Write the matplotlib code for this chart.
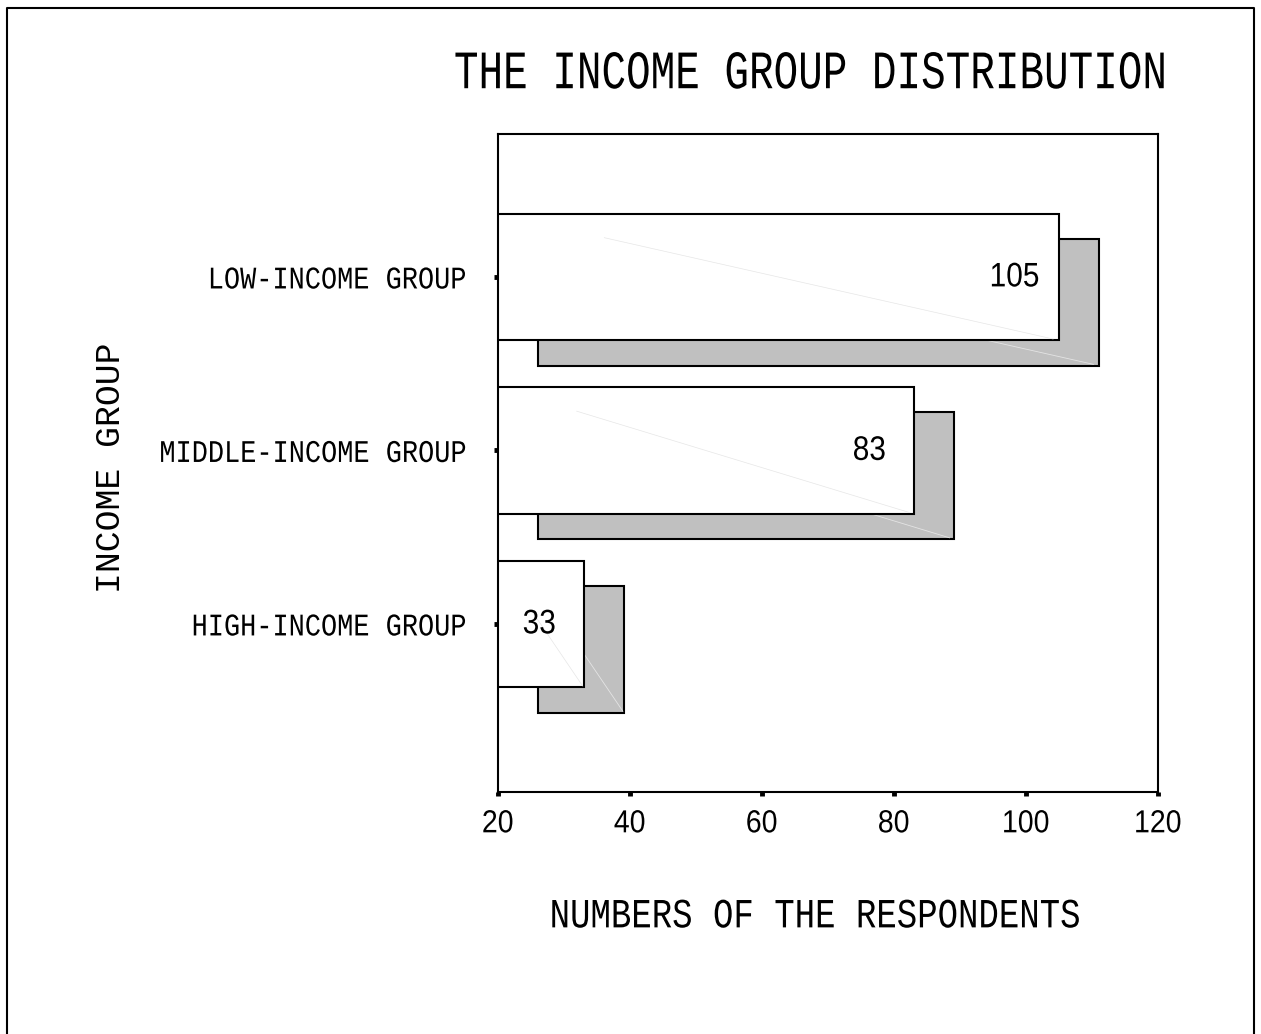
import numpy as np
import matplotlib
matplotlib.use("Agg")
from matplotlib import pyplot as plt
import matplotlib.patheffects as pe
from matplotlib.transforms import Affine2D
from matplotlib.lines import Line2D

# data
groups = ["LOW-INCOME GROUP", "MIDDLE-INCOME GROUP", "HIGH-INCOME GROUP"]
counts = [105, 83, 33]
xticks = [20, 40, 60, 80, 100, 120]

title = "THE INCOME GROUP DISTRIBUTION"
xlabel = "NUMBERS OF THE RESPONDENTS"
ylabel = "INCOME GROUP"


class Tall(pe.AbstractPathEffect):
    """Stretch glyphs vertically about their middle (SPSS text is narrow and tall)."""

    def __init__(self, sy):
        super().__init__()
        self.sy = sy

    def draw_path(self, renderer, gc, tpath, affine, rgbFace=None):
        ext = tpath.get_extents()
        mid = (ext.y0 + ext.y1) / 2
        st = Affine2D().translate(0, -mid).scale(1, self.sy).translate(0, mid)
        renderer.draw_path(gc, tpath, st + affine, rgbFace)


MONO = "Liberation Mono"
SANS = "Liberation Sans"

W, H = 1261, 1034
fig = plt.figure(figsize=(W / 100, H / 100), dpi=100)
ax = fig.add_axes([497.7 / W, 1 - 791.7 / H, 660 / W, 657.7 / H])

base = 20
pos = np.arange(len(groups))
vals = np.array(counts, dtype=float)
bar_h = 0.73
dx, dy = 6.1, 0.146  # drop shadow offset in data units

ax.barh(pos + dy, vals - base, left=base + dx, height=bar_h,
        color="#c0c0c0", edgecolor="black", linewidth=1.5, zorder=2)
ax.barh(pos, vals - base, left=base, height=bar_h,
        color="white", edgecolor="black", linewidth=1.5, zorder=4)

# faint triangle seams the old renderer left across each rectangle
for p, v in zip(pos, vals):
    t = np.array([0.19 if v > 60 else 0.42, 0.99])
    x0, x1 = base + dx, v + dx
    y0, y1 = p + dy - bar_h / 2, p + dy + bar_h / 2
    ax.plot(x0 + t * (x1 - x0), y0 + t * (y1 - y0), color="#e4e4e4", lw=0.6, zorder=3)
    x0, x1 = base, v
    y0, y1 = p - bar_h / 2, p + bar_h / 2
    ax.plot(x0 + t * (x1 - x0), y0 + t * (y1 - y0), color="#e6e6e6", lw=0.5, zorder=5)

for p, v in zip(pos, counts):
    ax.text(v - 6.7, p, str(v), ha="center", va="center", fontsize=21.5,
            family=SANS, zorder=6, path_effects=[Tall(1.14)])

ax.set_xlim(20, 120)
ax.set_ylim(2.967, -0.824)
ax.set_xticks(xticks)
ax.set_yticks(pos)
ax.set_yticklabels(groups)
for s in ax.spines.values():
    s.set_linewidth(1.5)
ax.tick_params(axis="both", direction="out", length=3, width=3.5, color="black")
ax.tick_params(axis="x", pad=11)
ax.tick_params(axis="y", pad=20)
for lab in ax.get_xticklabels():
    lab.set_fontfamily(SANS)
    lab.set_fontsize(20.5)
    lab.set_path_effects([Tall(1.12)])
for lab in ax.get_yticklabels():
    lab.set_fontfamily(MONO)
    lab.set_fontsize(19.4)
    lab.set_path_effects([Tall(1.17)])

fig.text(811 / W, 1 - 72.9 / H, title, ha="center", va="center",
         fontsize=29.5, family=MONO, path_effects=[Tall(1.32)])
fig.text(814.5 / W, 1 - 916.4 / H, xlabel, ha="center", va="center",
         fontsize=24.5, family=MONO, path_effects=[Tall(1.22)])
fig.text(110 / W, 1 - 467.5 / H, ylabel, ha="center", va="center",
         rotation=90, fontsize=25, family=MONO)

# outer frame (left, top, right; bottom edge is off the page)
fig.add_artist(Line2D([6.5 / W, 6.5 / W, 1254 / W, 1254 / W],
                      [-0.1, 1 - 7.5 / H, 1 - 7.5 / H, -0.1],
                      transform=fig.transFigure, color="black", lw=1.5))

fig.savefig("out.png", dpi=100)
